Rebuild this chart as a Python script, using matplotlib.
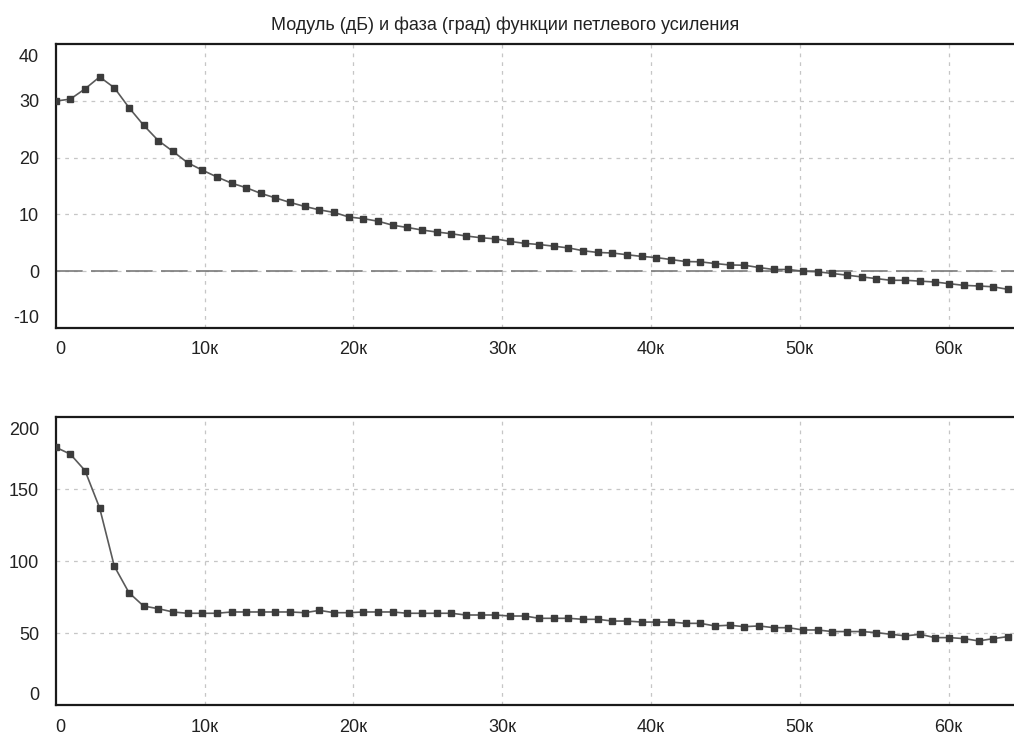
import numpy as np
import matplotlib
matplotlib.use("Agg")
import matplotlib.pyplot as plt
from matplotlib.transforms import ScaledTranslation

# ---- data ----
freq = np.linspace(0, 64000, 66)  # sampling grid, Hz

magnitude_db = [29.95, 30.3, 32.1, 34.2, 32.3, 28.8, 25.7, 23.0, 21.1, 19.1,
                17.8, 16.6, 15.5, 14.7, 13.7, 12.9, 12.1, 11.4, 10.8, 10.35,
                9.55, 9.25, 8.8, 8.1, 7.7, 7.25, 6.9, 6.6, 6.2, 5.9,
                5.7, 5.25, 4.9, 4.7, 4.4, 4.1, 3.6, 3.3, 3.2, 2.9,
                2.6, 2.4, 2.05, 1.7, 1.65, 1.35, 1.1, 1.05, 0.65, 0.3,
                0.3, 0.0, -0.1, -0.4, -0.7, -1.0, -1.3, -1.6, -1.6, -1.75,
                -1.9, -2.2, -2.5, -2.6, -2.75, -3.2]

phase_deg = [179.0, 174.2, 162.8, 136.8, 96.4, 78.0, 68.7, 66.9, 64.6, 63.7,
             63.7, 63.7, 64.6, 64.6, 64.6, 64.6, 64.6, 64.1, 65.7, 64.1,
             64.1, 64.6, 64.6, 64.6, 63.7, 63.7, 63.7, 63.7, 62.5, 62.5,
             62.5, 61.8, 61.8, 60.2, 60.2, 60.2, 59.5, 59.5, 58.3, 58.3,
             57.6, 57.6, 57.6, 56.7, 56.7, 54.9, 55.4, 54.4, 54.9, 53.7,
             53.7, 52.1, 52.1, 51.0, 51.0, 51.0, 50.3, 49.1, 48.0, 49.1,
             46.8, 46.8, 46.1, 44.5, 46.1, 47.5]

x_ticks = [0, 10000, 20000, 30000, 40000, 50000, 60000]
x_tick_labels = ["0", "10к", "20к", "30к", "40к", "50к", "60к"]
mag_ticks = [-10, 0, 10, 20, 30, 40]
phase_ticks = [0, 50, 100, 150, 200]
title = "Модуль (дБ) и фаза (град) функции петлевого усиления"

# ---- style ----
plt.rcParams['font.family'] = ['Liberation Sans', 'DejaVu Sans']
W, H = 1014, 736
fig = plt.figure(figsize=(W / 100, H / 100), dpi=100)

grid_kw = dict(color='#c6c6c6', lw=0.9, linestyle=(0, (3, 4)))
line_kw = dict(color='#5a5a5a', lw=1.2, marker='s', markersize=4.8,
               markerfacecolor='#3c3c3c', markeredgecolor='#3c3c3c')

left = 55.7 / W
width = 65 * 14.88 / W
ax1 = fig.add_axes([left, 1 - 328 / H, width, (328 - 44) / H])
ax2 = fig.add_axes([left, 1 - 705 / H, width, (705 - 417) / H])


def style(ax, yticks, ylim):
    ax.set_xlim(0, 65000)
    ax.set_ylim(*ylim)
    ax.set_xticks(x_ticks)
    ax.set_xticklabels(x_tick_labels)
    ax.set_yticks(yticks)
    ax.set_yticklabels([str(v) for v in yticks])
    ax.tick_params(length=0, labelsize=13, colors='#222222')
    ax.tick_params(axis='y', pad=12)
    for s in ['left', 'bottom', 'top']:
        ax.spines[s].set_linewidth(1.6)
        ax.spines[s].set_color('#1a1a1a')
    ax.spines['right'].set_visible(False)
    for xv in x_ticks[1:]:
        ax.axvline(xv, zorder=1, **grid_kw)
    for yv in yticks[1:-1]:
        ax.axhline(yv, zorder=1, **grid_kw)
    # first x label left aligned, end y labels pulled inward
    xl = ax.get_xticklabels()
    xl[0].set_horizontalalignment('left')
    yl = ax.get_yticklabels()
    yl[0].set_transform(yl[0].get_transform() + ScaledTranslation(0, 8 / 72, fig.dpi_scale_trans))
    yl[-1].set_transform(yl[-1].get_transform() + ScaledTranslation(0, -8 / 72, fig.dpi_scale_trans))


style(ax1, mag_ticks, (-10, 40))
style(ax2, phase_ticks, (0, 200))
ax1.tick_params(axis='x', pad=9)
ax2.tick_params(axis='x', pad=10)

ax1.axhline(0, color='#7a7a7a', lw=1.2, linestyle=(0, (16, 5)), zorder=2)

ax1.plot(freq, magnitude_db, zorder=3, clip_on=True, **line_kw)
ax2.plot(freq, phase_deg, zorder=3, clip_on=True, **line_kw)

fig.text(505 / W, 1 - 25.5 / H, title, ha='center', va='center',
         fontsize=13, color='#222222')

fig.savefig('out.png', dpi=100)
